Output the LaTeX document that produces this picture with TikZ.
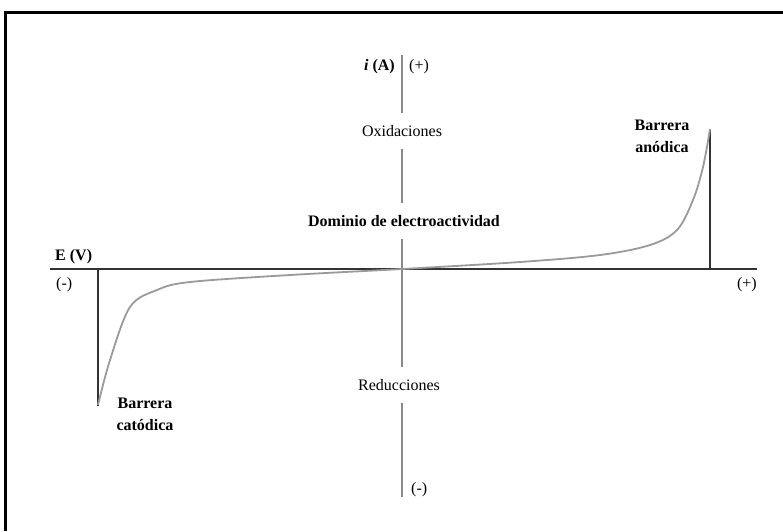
\documentclass[tikz,border=0pt]{standalone}
\usepackage{fontspec}
\setmainfont{Liberation Serif}
\usepackage{tikz}
\usetikzlibrary{positioning}

\definecolor{axisgray}{HTML}{8A8A8A}
\definecolor{curvegray}{HTML}{9A9A9A}
\definecolor{darkline}{HTML}{333333}

\begin{document}
\begin{tikzpicture}[
    x=1pt, y=-1pt,
    font=\fontsize{16}{22}\selectfont,
    lbl/.style={inner sep=0pt, align=center},
    boldlbl/.style={lbl, font=\fontsize{16}{22}\selectfont\bfseries},
    axislbl/.style={lbl, minimum height=36pt},
    vaxis/.style={draw=axisgray, line width=1.6pt},
    haxis/.style={draw=darkline, line width=1.4pt},
    barrier/.style={draw=darkline, line width=1.4pt},
    curve/.style={draw=curvegray, line width=1.8pt, smooth, tension=0.55}
  ]
    \useasboundingbox (0,0) rectangle (783,531);
    \draw[line width=2.2pt] (5.5,531) -- (5.5,12.5) -- (783,12.5);

    % axes
    \coordinate (itop) at (402,55);
    \coordinate (ibot) at (402,497);
    \coordinate (eleft) at (50,269);
    \coordinate (eright) at (757,269);
    \node[axislbl] (oxi) at (402,131) {Oxidaciones};
    \node[axislbl, boldlbl, minimum height=35pt] (dom) at (404,221) {Dominio de electroactividad};
    \node[axislbl] (red) at (399,385) {Reducciones};
    \draw[vaxis] (itop) -- (oxi.north);
    \draw[vaxis] (oxi.south) -- (dom.north -| oxi.south);
    \draw[vaxis] (dom.south -| oxi.south) -- (red.north -| oxi.south);
    \draw[vaxis] (red.south -| oxi.south) -- (ibot);
    \draw[haxis] (eleft) -- (eright);

    \node[lbl, anchor=east] (ilbl) at (395,67) {\textbf{\textit{i}} \textbf{(A)}};
    \node[lbl, anchor=west] (iplus) at (409,67) {(+)};
    \node[lbl, anchor=west] (iminus) at (411,490) {(-)};
    \node[boldlbl, anchor=west] (elbl) at (55,257) {E (V)};
    \node[lbl, anchor=west] (eminus) at (56,285) {(-)};
    \node[lbl, anchor=east] (eplus) at (757,285) {(+)};

    % barreras
    \coordinate (ctop) at (98,269);
    \coordinate (cbot) at (98,406);
    \coordinate (abot) at (710,269);
    \coordinate (atop) at (710,129);
    \draw[barrier] (ctop) -- (cbot);
    \draw[barrier] (abot) -- (atop);
    \node[boldlbl] (cat) at (145,414) {Barrera\\catódica};
    \node[boldlbl] (ano) at (662,136) {Barrera\\anódica};

    \draw[curve] plot coordinates {(98,405) (110,360) (130,307) (157,290)
      (190,282) (290,275) (402,269) (520,262) (600,255) (650,245)
      (677,230) (693,200) (703,167) (710,129)};
\end{tikzpicture}
\end{document}
